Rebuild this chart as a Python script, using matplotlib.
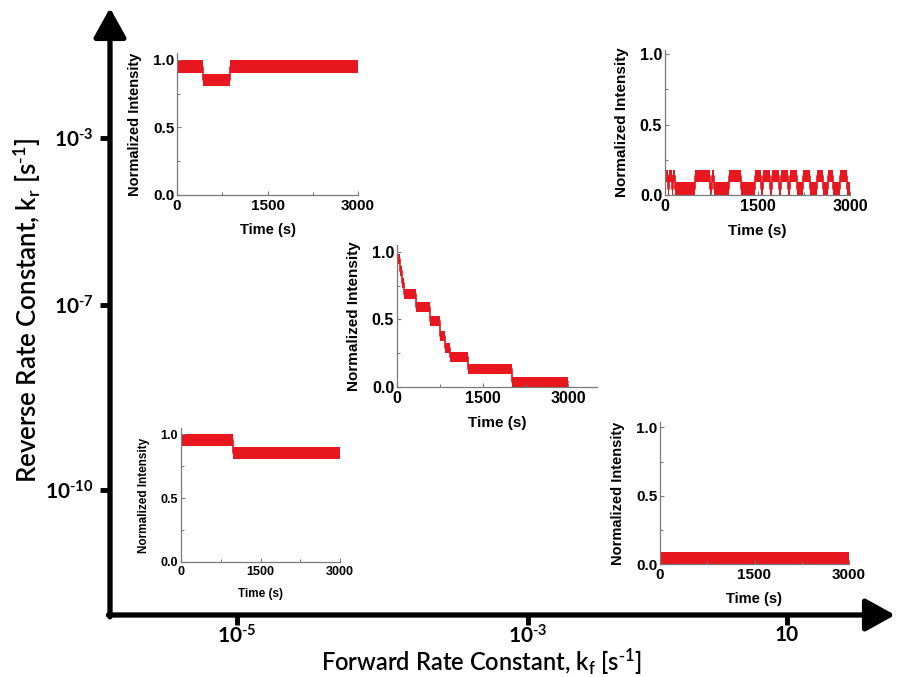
import numpy as np
import matplotlib
matplotlib.use('Agg')
import matplotlib.pyplot as plt
from matplotlib.ticker import FixedLocator

# ---- schematic rate-constant axes ----
FWD_LABELS = [r'10$^{\text{-}5}$', r'10$^{\text{-}3}$', '10']
REV_LABELS = [r'10$^{\text{-}10}$', r'10$^{\text{-}7}$', r'10$^{\text{-}3}$']

# ---- intensity traces: step boundaries (s) and plateau levels ----
# slow forward / slow reverse (top left)
TL_T = [0, 425, 880, 3000]
TL_LVL = [0.95, 0.85, 0.95]

# fast blinking (top right): H = bright state, L = dim state
H, L = 0.135, 0.045
TR_T = [0, 45, 65, 110, 125, 170, 490, 730, 760, 800, 1040, 1240, 1460, 1560,
        1590, 1700, 1730, 1850, 1880, 1990, 2030, 2140, 2240, 2350, 2460, 2565,
        2645, 2730, 2835, 2945, 3000]
TR_LVL = [H, L, H, L, H, L, H, L, H, L, H, L, H, L,
          H, L, H, L, H, L, H, L, H, L, H, L,
          H, L, H, L]

# stepwise photobleaching (centre)
MID_T = [0, 45, 90, 130, 330, 575, 745, 845, 935, 1235, 2010, 3000]
MID_LVL = [0.95, 0.86, 0.77, 0.685, 0.59, 0.49, 0.38, 0.29, 0.22, 0.135, 0.04]

# single step (bottom left)
BL_T = [0, 980, 3000]
BL_LVL = [0.955, 0.855]

# dark (bottom right)
BR_T = [0, 3000]
BR_LVL = [0.045]

RED = '#e8161f'
W, Hpx = 901, 677

plt.rcParams['mathtext.default'] = 'regular'

fig = plt.figure(figsize=(W / 100, Hpx / 100), dpi=100)


def px_rect(left, right, bottom, top):
    return [left / W, 1 - bottom / Hpx, (right - left) / W, (bottom - top) / Hpx]


# main axes with arrows
ax = fig.add_axes(px_rect(110, 895, 615, 8))
ax.set_xlim(0, 1)
ax.set_ylim(0, 1)
ax.patch.set_alpha(0)
for s in ax.spines.values():
    s.set_visible(False)
arrow = dict(arrowstyle='-|>,head_length=0.45,head_width=0.25', color='black',
             lw=3.8, mutation_scale=40, shrinkA=0, shrinkB=0)
ax.annotate('', xy=(1, 0), xytext=(-0.002, 0), xycoords='axes fraction', arrowprops=arrow)
ax.annotate('', xy=(0, 1), xytext=(0, -0.003), xycoords='axes fraction', arrowprops=arrow)
ax.set_xticks([0.162, 0.532, 0.862])
ax.set_xticklabels(FWD_LABELS)
ax.set_yticks([0.206, 0.511, 0.786])
ax.set_yticklabels(REV_LABELS)
ax.tick_params(length=7, width=3.5, direction='out', labelsize=15)
ax.tick_params(axis='x', pad=0)
ax.tick_params(axis='y', pad=5)
for lab in ax.get_xticklabels() + ax.get_yticklabels():
    lab.set_fontfamily('Lato')
    lab.set_fontweight('bold')

fig.text(481 / W, 1 - 677 / Hpx, 'Forward Rate Constant, k$_f$ [s$^{\\text{-}1}$]',
         ha='center', va='bottom', fontsize=17, family='Lato', fontweight='semibold')
fig.text(27 / W, 1 - 310 / Hpx, 'Reverse Rate Constant, k$_r$ [s$^{\\text{-}1}$]',
         ha='center', va='center', rotation=90, fontsize=18.5, family='Lato',
         fontweight='semibold')


def add_trace(rect, t, lvl, hw, xmax, ymax, fs):
    ins = fig.add_axes(px_rect(*rect))
    ins.patch.set_alpha(0)
    t = np.asarray(t, float)
    lv = np.append(lvl, lvl[-1])
    ins.fill_between(t, lv - hw, lv + hw, step='post', color=RED, lw=0)
    ins.step(t, lv, where='post', color=RED, lw=1.2)
    ins.set_xlim(0, xmax)
    ins.set_ylim(0, ymax)
    ins.spines['top'].set_visible(False)
    ins.spines['right'].set_visible(False)
    for s in ('left', 'bottom'):
        ins.spines[s].set_color('#7a7a7a')
        ins.spines[s].set_linewidth(0.9)
    ins.xaxis.set_major_locator(FixedLocator([0, 1500, 3000]))
    ins.xaxis.set_minor_locator(FixedLocator([750, 2250]))
    ins.yaxis.set_major_locator(FixedLocator([0, 0.5, 1.0]))
    ins.yaxis.set_minor_locator(FixedLocator([0.25, 0.75]))
    ins.set_yticklabels(['0.0', '0.5', '1.0'])
    ins.tick_params(which='both', direction='in', color='#7a7a7a', width=0.8)
    ins.tick_params(which='major', length=3)
    ins.tick_params(which='minor', length=2)
    ins.tick_params(axis='x', pad=3, labelsize=fs)
    ins.tick_params(axis='y', pad=2, labelsize=fs)
    for lab in ins.get_xticklabels() + ins.get_yticklabels():
        lab.set_fontfamily('Liberation Sans')
        lab.set_fontweight('bold')
    ins.set_xlabel('Time (s)', family='Liberation Sans', fontweight='bold',
                   fontsize=fs - 0.5, labelpad=7)
    ins.set_ylabel('Normalized Intensity', family='Liberation Sans',
                   fontweight='bold', fontsize=fs - 0.5, labelpad=8)
    return ins


add_trace((177, 358, 195, 53), TL_T, TL_LVL, 0.045, 3000, 1.05, 11)
add_trace((665, 850, 195, 50), TR_T, TR_LVL, 0.045, 3000, 1.03, 11.5)
add_trace((397, 597, 387, 245), MID_T, MID_LVL, 0.037, 3500, 1.05, 11.5)
add_trace((181, 340, 562, 428), BL_T, BL_LVL, 0.045, 3000, 1.05, 9)
add_trace((660, 849, 564, 422), BR_T, BR_LVL, 0.045, 3000, 1.04, 11)

fig.savefig('out.png', dpi=100)
